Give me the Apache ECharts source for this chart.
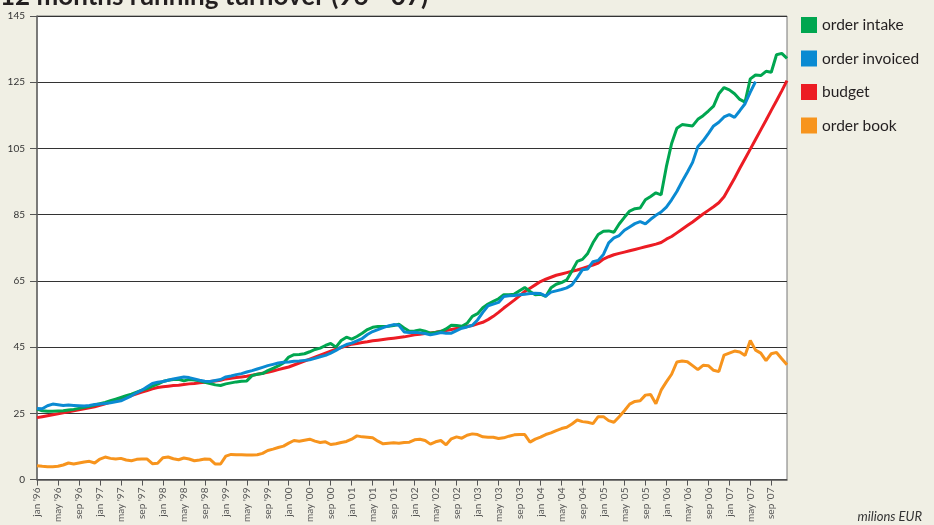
<!DOCTYPE html>
<html>
<head>
<meta charset="utf-8">
<script src="https://cdn.jsdelivr.net/npm/echarts@6/dist/echarts.min.js"></script>
<style>
    html, body { margin: 0; padding: 0; background: #f0efe4; }
    #turnover { width: 934px; height: 525px; }
</style>
</head>
<body>
<div id="turnover"></div>
<script>
// months jan '96 .. dec '07
var monthNames = ['jan', 'feb', 'mar', 'apr', 'may', 'jun', 'jul', 'aug', 'sep', 'oct', 'nov', 'dec'];
var years = ['96', '97', '98', '99', '00', '01', '02', '03', '04', '05', '06', '07'];
var months = [];
years.forEach(function (y) {
    monthNames.forEach(function (m) {
        months.push(m + " '" + y);
    });
});

// y axis ticks: bottom tick is labelled 0 (broken axis)
var yTicks = [5, 25, 45, 65, 85, 105, 125, 145];

var orderIntake = [
    26.3, 25.8, 25.6, 25.6, 25.7, 25.8, 26.0, 26.2, 26.5, 26.8, 27.1, 27.5,
    27.9, 28.3, 28.8, 29.3, 29.8, 30.3, 30.8, 31.4, 32.0, 32.5, 33.2, 33.8,
    34.6, 35.0, 35.2, 35.3, 34.8, 35.2, 35.1, 34.8, 34.4, 34.0, 33.6, 33.4,
    33.9, 34.2, 34.5, 34.7, 34.8, 36.4, 36.8, 37.0, 37.9, 38.6, 39.3, 40.2,
    42.0, 42.7, 42.8, 43.0, 43.6, 44.3, 44.7, 45.5, 46.1, 45.0, 47.0, 48.0,
    47.4, 48.2, 49.2, 50.3, 51.0, 51.2, 51.2, 51.3, 51.5, 51.9, 50.8, 49.8,
    49.9, 50.2, 49.8, 49.2, 49.4, 49.7, 50.5, 51.6, 51.5, 51.3, 52.2, 54.3,
    55.1, 56.9, 58.0, 58.8, 59.6, 60.8, 60.8, 61.0, 62.0, 63.0, 61.8, 60.8,
    61.0, 60.3, 62.9, 64.0, 64.5, 65.3, 68.0, 70.9, 71.5, 73.3, 76.5, 79.0,
    80.0, 80.1, 79.7, 82.2, 84.2, 86.1, 86.8, 87.0, 89.5, 90.5, 91.6, 91.0,
    99.5, 106.5, 111.1, 112.2, 112.0, 111.8, 113.8, 114.9, 116.3, 117.8, 121.5, 123.4,
    122.7, 121.5, 119.8, 119.0, 126.0, 127.2, 127.0, 128.3, 128.0, 133.3, 133.7, 132.2
];
var orderInvoiced = [
    26.5, 26.4, 27.3, 27.8, 27.6, 27.4, 27.5, 27.4, 27.3, 27.2, 27.4, 27.7,
    27.8, 28.0, 28.2, 28.5, 28.8, 29.5, 30.3, 31.2, 32.0, 33.0, 34.0, 34.4,
    34.6, 35.0, 35.4, 35.7, 36.0, 35.8, 35.4, 35.0, 34.7, 34.6, 34.9, 35.2,
    36.0, 36.3, 36.7, 37.0, 37.5, 37.9, 38.4, 38.9, 39.4, 39.8, 40.2, 40.4,
    40.5, 40.7, 40.8, 41.0, 41.2, 41.6, 42.1, 42.5, 43.2, 44.0, 45.0, 45.8,
    46.2, 46.9, 47.6, 48.8, 49.7, 50.3, 50.9, 51.4, 51.8, 51.6, 49.6, 49.4,
    49.5, 49.3, 49.1, 48.7, 49.0, 49.4, 49.2, 49.2, 50.0, 50.7, 51.1, 51.6,
    53.2, 55.5, 57.5, 58.0, 58.5, 60.3, 60.5, 60.6, 60.8, 61.0, 61.2, 61.3,
    61.2, 60.4, 61.6, 62.0, 62.4, 62.9, 63.8, 66.0, 68.4, 68.6, 70.8, 71.2,
    73.0, 76.5, 78.0, 78.7, 80.3, 81.3, 82.3, 82.9, 82.2, 83.6, 84.8, 85.8,
    87.3, 89.5, 92.0, 95.0, 97.8, 100.8, 105.5, 107.3, 109.5, 111.8, 112.9, 114.5,
    115.2, 114.4, 116.4, 118.5, 122.0, 125.2, null, null, null, null, null, null
];
var budget = [
    23.7, 24.0, 24.3, 24.6, 24.9, 25.2, 25.5, 25.8, 26.1, 26.4, 26.7, 27.0,
    27.4, 27.9, 28.4, 28.9, 29.4, 29.9, 30.4, 30.9, 31.4, 31.9, 32.4, 32.8,
    33.0, 33.2, 33.4, 33.5, 33.7, 33.9, 34.0, 34.2, 34.4, 34.6, 34.8, 35.0,
    35.4, 35.6, 35.8, 36.0, 36.2, 36.5, 36.8, 37.1, 37.4, 37.8, 38.2, 38.6,
    39.0, 39.6, 40.2, 40.8, 41.4, 42.0, 42.6, 43.2, 43.8, 44.4, 44.9, 45.4,
    45.9, 46.1, 46.4, 46.6, 46.9, 47.1, 47.3, 47.5, 47.7, 47.9, 48.1, 48.4,
    48.7, 48.9, 49.1, 49.3, 49.5, 49.8, 50.0, 50.3, 50.6, 50.9, 51.2, 51.5,
    52.0, 52.5, 53.3, 54.3, 55.5, 56.8, 58.0, 59.2, 60.5, 61.8, 62.8, 63.8,
    64.8, 65.5, 66.1, 66.7, 67.1, 67.5, 67.9, 68.3, 68.8, 69.3, 69.8, 70.4,
    71.6, 72.3, 72.9, 73.3, 73.7, 74.1, 74.5, 74.9, 75.3, 75.7, 76.1, 76.6,
    77.6, 78.4, 79.5, 80.6, 81.7, 82.8, 84.0, 85.2, 86.3, 87.4, 88.6, 90.4,
    93.2, 96.0, 99.0, 101.9, 104.8, 107.7, 110.6, 113.5, 116.5, 119.4, 122.4, 125.5
];
var orderBook = [
    9.2, 9.0, 8.9, 8.9, 9.0, 9.4, 10.0, 9.7, 10.0, 10.3, 10.5, 10.0,
    11.2, 11.8, 11.4, 11.2, 11.4, 10.9, 10.7, 11.1, 11.2, 11.2, 9.8, 9.9,
    11.6, 11.8, 11.3, 11.0, 11.5, 11.2, 10.7, 10.9, 11.2, 11.1, 9.7, 9.7,
    12.1, 12.6, 12.5, 12.5, 12.4, 12.4, 12.5, 12.9, 13.8, 14.2, 14.7, 15.1,
    16.0, 16.8, 16.6, 16.9, 17.2, 16.6, 16.2, 16.4, 15.6, 15.8, 16.2, 16.5,
    17.2, 18.2, 17.9, 17.8, 17.6, 16.6, 15.8, 16.0, 16.1, 16.0, 16.2, 16.3,
    17.0, 17.2, 16.8, 15.7, 16.4, 16.8, 15.5, 17.3, 17.9, 17.5, 18.4, 18.8,
    18.6, 17.9, 17.8, 17.8, 17.4, 17.6, 18.1, 18.5, 18.6, 18.6, 16.3, 17.2,
    17.8, 18.6, 19.1, 19.8, 20.4, 20.8, 21.8, 23.0, 22.5, 22.3, 21.9, 24.0,
    24.0, 22.8, 22.3, 24.0, 25.8, 27.8, 28.6, 28.8, 30.5, 30.7, 27.9, 32.0,
    34.5, 36.8, 40.5, 40.8, 40.6, 39.4, 38.2, 39.5, 39.4, 38.0, 37.6, 42.6,
    43.2, 43.8, 43.5, 42.5, 47.0, 44.1, 43.2, 40.9, 43.0, 43.4, 41.5, 39.7
];

var turnover = echarts.init(document.getElementById('turnover'));
var lineStyle = function (c) {
    return {
        type: 'line',
        symbol: 'none',
        color: c,
        lineStyle: { width: 3, color: c }
    };
};
var series = [
    Object.assign(lineStyle('#f7941d'), { name: 'order book', data: orderBook }),
    Object.assign(lineStyle('#ec1c24'), { name: 'budget', data: budget }),
    Object.assign(lineStyle('#00a650'), { name: 'order intake', data: orderIntake }),
    Object.assign(lineStyle('#0a8ad2'), { name: 'order invoiced', data: orderInvoiced })
];
var turnoverOption = {
    backgroundColor: '#f0efe4',
    animation: false,
    textStyle: { fontFamily: 'Lato' },
    title: {
        text: '12 months running turnover (96 - 07)',
        left: 0,
        top: -16,
        padding: 0,
        textStyle: { fontSize: 26, fontWeight: 'bold', color: '#231f20', fontFamily: 'Lato' }
    },
    legend: {
        orient: 'vertical',
        left: 801,
        top: 17,
        padding: 0,
        icon: 'rect',
        itemWidth: 16,
        itemHeight: 16,
        itemGap: 17.5,
        data: ['order intake', 'order invoiced', 'budget', 'order book'],
        textStyle: { fontSize: 15.5, color: '#231f20', fontFamily: 'Lato' }
    },
    grid: {
        left: 37,
        right: 147,
        top: 16,
        bottom: 45,
        show: true,
        backgroundColor: '#fff',
        borderColor: '#777',
        borderWidth: 1
    },
    xAxis: {
        type: 'category',
        boundaryGap: false,
        data: months,
        axisLine: { lineStyle: { color: '#555', width: 1.5 } },
        axisTick: { interval: 3, length: 6, lineStyle: { color: '#555' } },
        axisLabel: { interval: 3, rotate: 90, fontSize: 10, color: '#555', margin: 8 }
    },
    yAxis: {
        type: 'value',
        min: yTicks[0],
        max: yTicks[yTicks.length - 1],
        interval: 20,
        axisLine: { show: true, lineStyle: { color: '#666', width: 1.5 } },
        axisTick: { show: true, length: 7, lineStyle: { color: '#555' } },
        axisLabel: {
            fontSize: 10,
            color: '#333',
            margin: 12,
            formatter: function (v) { return v === yTicks[0] ? '0' : v; }
        },
        splitLine: { lineStyle: { color: '#333', width: 1 } }
    },
    graphic: [{
        type: 'text',
        right: 12,
        bottom: 2,
        style: { text: 'milions EUR', font: 'italic 13px Lato', fill: '#333' }
    }],
    series: series
};
turnover.setOption(turnoverOption);
</script>
</body>
</html>
